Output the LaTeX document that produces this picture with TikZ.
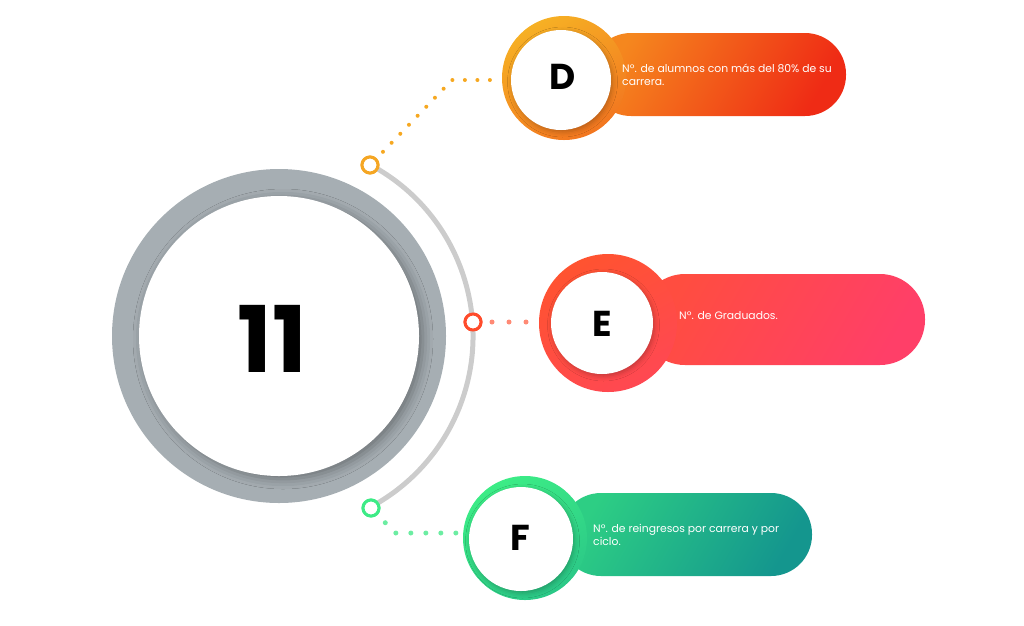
\documentclass[tikz,border=0pt]{standalone}
\usepackage{fontspec}
\setmainfont{Poppins}
\usetikzlibrary{shadows.blur}
\definecolor{ringgray}{HTML}{A6AEB3}
\definecolor{arcgray}{HTML}{CCCCCC}
\definecolor{sorange}{HTML}{F5A623}
\definecolor{sred}{HTML}{FF4B2B}
\definecolor{sgreen}{HTML}{3DEB86}
\definecolor{dotorange}{HTML}{F6A821}
\definecolor{dotred}{HTML}{FF8A75}
\definecolor{dotgreen}{HTML}{6CEDA2}
\definecolor{dringA}{HTML}{F6B024}
\definecolor{dringB}{HTML}{F27620}
\definecolor{dpillA}{HTML}{F5871E}
\definecolor{dpillB}{HTML}{EF2B15}
\definecolor{eringA}{HTML}{FF5330}
\definecolor{eringB}{HTML}{FF4852}
\definecolor{epillA}{HTML}{FF4D40}
\definecolor{epillB}{HTML}{FF3F68}
\definecolor{fringA}{HTML}{3CEC86}
\definecolor{fringB}{HTML}{2BC887}
\definecolor{fpillA}{HTML}{2DCE84}
\definecolor{fpillB}{HTML}{14968E}
\begin{document}
\begin{tikzpicture}[x=1pt,y=-1pt,
  smallring/.style={circle, draw=#1, line width=3pt, fill=white, minimum size=16pt, inner sep=0pt},
  whitedisc/.style={circle, fill=white, inner sep=0pt,
    blur shadow={shadow xshift=1.5pt, shadow yshift=-2pt, shadow blur radius=5pt, shadow opacity=25}},
  ringdisc/.style={circle, inner sep=0pt, draw=none},
  letter/.style={font=\fontsize{36}{36}\selectfont\bfseries, text=black},
  desc/.style={font=\fontsize{10.8}{13}\selectfont, text=white, align=left, anchor=west, inner sep=0pt},
  dotline/.style={draw=#1, line cap=round},
]
\useasboundingbox (0,0) rectangle (1024,625);
\coordinate (c) at (279,336);

% small rings and big rings (for anchors)
\node[smallring=sorange] (oc) at (370,165) {};
\node[smallring=sred] (rc) at (473,322) {};
\node[smallring=sgreen] (gc) at (371,508) {};
\path (564,78) node[ringdisc, minimum size=124pt] (dring) {};
\path (608,323) node[ringdisc, minimum size=138pt] (ering) {};
\path (525,538) node[ringdisc, minimum size=124pt] (fring) {};

% dotted connectors
\coordinate (ok) at (452,80);
\coordinate (gk) at (395,533);
\draw[dotline=dotorange, line width=4pt, dash pattern=on 0pt off 12.5pt, shorten <=9pt, shorten >=8pt]
  (oc.45) -- (ok) -- (dring.west |- ok);
\draw[dotline=dotred, line width=5pt, dash pattern=on 0pt off 17pt, shorten <=9.5pt, shorten >=10pt]
  (rc.east) -- (ering.west |- rc);
\draw[dotline=dotgreen, line width=5pt, dash pattern=on 0pt off 15pt, shorten <=11pt, shorten >=5pt]
  (gc.-45) -- (gk) -- (fring.west |- gk);

% main circle
\node[circle, fill=ringgray, minimum size=334pt, inner sep=0pt] (outer) at (c) {};
\node[circle, fill=white, minimum size=280pt, inner sep=0pt,
  blur shadow={shadow xshift=4pt, shadow yshift=-3pt, shadow blur radius=10pt, shadow opacity=35}] (inner) at (c) {};
\node[font=\fontsize{92}{92}\selectfont\bfseries, text=black] (num) at (272,339) {11};

% grey arc
\draw[arcgray, line width=5pt] (c) ++(62:194pt) arc[start angle=62, end angle=-62, radius=194pt];
\node[smallring=sorange] at (oc) {};
\node[smallring=sred] at (rc) {};
\node[smallring=sgreen] at (gc) {};

% pills
\shade[rounded corners=41pt, top color=dpillA, bottom color=dpillB, shading angle=60]
  (590,33) rectangle (846,116);
\shade[rounded corners=45pt, top color=epillA, bottom color=epillB, shading angle=60]
  (640,274) rectangle (925,365);
\shade[rounded corners=41pt, top color=fpillA, bottom color=fpillB, shading angle=60]
  (560,493) rectangle (812,576);

% rings
\node[ringdisc, minimum size=124pt, top color=dringA, bottom color=dringB, shading angle=30] at (dring) {};
\node[ringdisc, minimum size=138pt, top color=eringA, bottom color=eringB, shading angle=30] at (ering) {};
\node[ringdisc, minimum size=124pt, top color=fringA, bottom color=fringB, shading angle=30] at (fring) {};

\node[whitedisc, minimum size=100pt] (dwhite) at (561,80) {};
\node[whitedisc, minimum size=102pt] (ewhite) at (602,323) {};
\node[whitedisc, minimum size=104pt] (fwhite) at (521,539) {};

\node[letter] (dl) at (563,77) {D};
\node[letter] (el) at (602,324) {E};
\node[letter] (fl) at (520,538) {F};

\node[desc] (dt) at (622,74.5) {Nº. de alumnos con más del 80\% de su\\carrera.};
\node[desc] (et) at (679,316) {Nº. de Graduados.};
\node[desc] (ft) at (593,535) {Nº. de reingresos por carrera y por\\ciclo.};
\end{tikzpicture}
\end{document}
